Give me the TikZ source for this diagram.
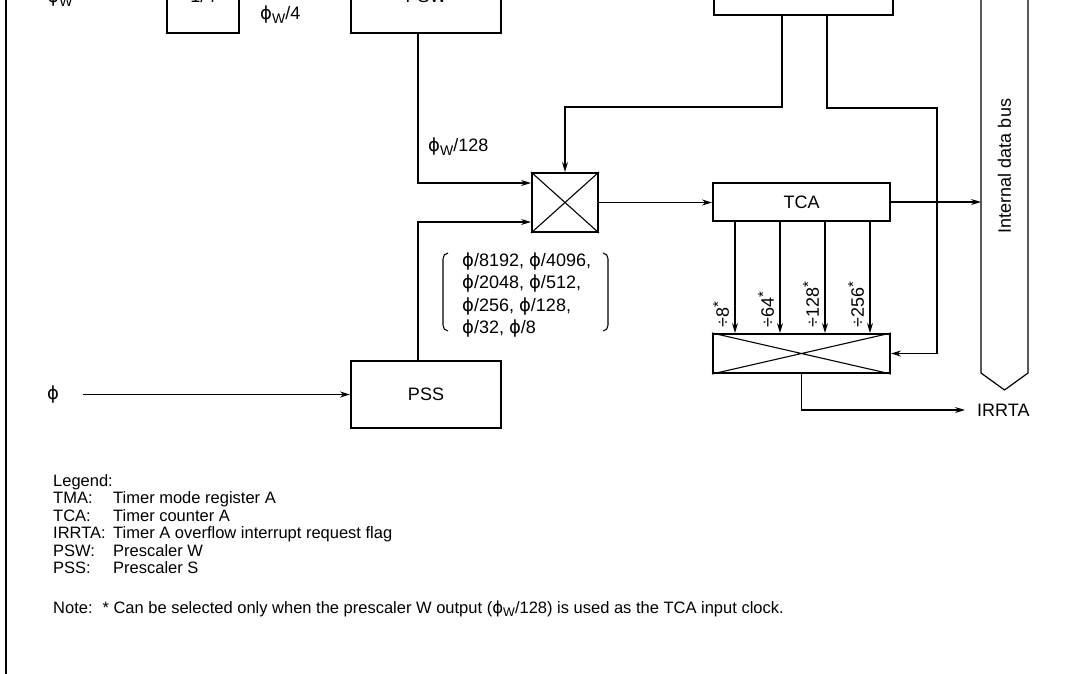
\documentclass[tikz,border=0pt]{standalone}
\usepackage{fontspec}
\setmainfont{Liberation Sans}
\newfontfamily\phifont{DejaVu Sans}
\usetikzlibrary{arrows.meta}
\newcommand\ph{{\phifont\char"03D5}}
\newcommand\phW{\ph\raisebox{-0.35ex}{\fontsize{14}{14}\selectfont W}}
\newcommand\phWs{\ph\raisebox{-0.35ex}{\fontsize{12.5}{13}\selectfont W}}
\newcommand\mystar{\raisebox{0.3em}{\fontsize{15}{15}\selectfont *}}
\begin{document}
\begin{tikzpicture}[x=1pt,y=-1pt,
  blk/.style={draw,line width=2pt,inner sep=0pt,font=\fontsize{18}{21}\selectfont},
  conn/.style={line width=1.1pt},
  arr/.style={conn,-{Stealth[length=10pt,width=6pt]}},
  lbl/.style={inner sep=0pt,font=\fontsize{18}{21}\selectfont},
  leg/.style={inner sep=0pt,anchor=base west,font=\fontsize{16.5}{18}\selectfont},
  ]
\useasboundingbox (0,0) rectangle (1066,673);
% frame
\draw[line width=2pt] (6,-20) -- (6,690);
% top blocks (cut off)
\node[blk,minimum width=72pt,minimum height=74pt] (div4) at (203,-4) {1/4};
\node[blk,minimum width=150pt,minimum height=74pt] (psw) at (426,-4) {PSW};
\node[blk,minimum width=179pt,minimum height=42pt] (tma) at (803.5,-6) {TMA};
\node[lbl] (phwin) at (60,-2) {\phW};
\node[lbl,anchor=west] (phw4) at (260,15) {\phW/4};
% mux and counters
\node[blk,minimum width=66pt,minimum height=59pt] (mux) at (565,202.5) {};
\draw[conn] (mux.north west) -- (mux.south east) (mux.north east) -- (mux.south west);
\node[blk,minimum width=177pt,minimum height=38pt] (tca) at (801.5,202) {TCA};
\node[blk,minimum width=177pt,minimum height=39pt] (sel) at (801.5,353.5) {};
\draw[conn] (sel.north west) -- (sel.south east) (sel.north east) -- (sel.south west);
\node[blk,minimum width=150pt,minimum height=67pt] (pss) at (426,394.5) {PSS};
% inputs
\node[lbl] (phin) at (53,395) {\ph};
\coordinate (phstart) at (83,394.5);
\draw[arr] (phstart) -- (pss.west);
\draw[arr] ([xshift=-8pt]psw.south) |- ([yshift=19.5pt]mux.west);
\node[lbl,anchor=west] (phw128) at (428,147) {\phW/128};
\draw[arr] ([xshift=-8pt]pss.north) |- ([yshift=-19.5pt]mux.west);
\draw[arr] ([xshift=-21.5pt]tma.south) |- ([yshift=65pt]mux.north) -- (mux.north);
\coordinate (tr) at (937,108);
\draw[arr] ([xshift=23.5pt]tma.south) |- (tr) |- (sel.east);
\draw[arr] (mux.east) -- (mux.east -| tca.west);
% bus
\draw[line width=1.2pt] (981,-20) -- (981,373) -- (1004.5,390) -- (1028,373) -- (1028,-20);
\node[lbl,rotate=90] (bus) at (1004.5,166) {Internal data bus};
\coordinate (busw) at (981,202);
\draw[arr] (tca.east) -- (busw);
% divider arrows
\foreach \dx in {-66.5,-21.5,23.5,68.5}{
  \draw[arr] ([xshift=\dx pt]tca.south) -- ([xshift=\dx pt]sel.north);
}
\node[lbl,rotate=90,anchor=west] (d8) at (721,328) {÷8\mystar};
\node[lbl,rotate=90,anchor=west] (d64) at (766,328) {÷64\mystar};
\node[lbl,rotate=90,anchor=west] (d128) at (811,328) {÷128\mystar};
\node[lbl,rotate=90,anchor=west] (d256) at (856,328) {÷256\mystar};
% output
\node[lbl,anchor=west] (irr) at (977,410) {IRRTA};
\draw[arr] (sel.south) |- ([xshift=-12pt]irr.west);
% bracket list
\draw[conn] (448,253) to[out=180,in=90] (443,259) -- (443,325) to[out=-90,in=180] (448,331);
\draw[conn] (603,253) to[out=0,in=90] (608,259) -- (608,325) to[out=-90,in=0] (603,331);
\node[lbl,anchor=base west] (l1) at (462,266) {\ph/8192, \ph/4096,};
\node[lbl,anchor=base west] (l2) at (462,288.5) {\ph/2048, \ph/512,};
\node[lbl,anchor=base west] (l3) at (462,311) {\ph/256, \ph/128,};
\node[lbl,anchor=base west] (l4) at (462,333.5) {\ph/32, \ph/8};
% legend
\node[leg] (lg0) at (53,486) {Legend:};
\node[leg] (lg1) at (53,503.5) {TMA:};   \node[leg] (lg1b) at (113,503.5) {Timer mode register A};
\node[leg] (lg2) at (53,521) {TCA:};     \node[leg] (lg2b) at (113,521) {Timer counter A};
\node[leg] (lg3) at (53,538.5) {IRRTA:}; \node[leg] (lg3b) at (113,538.5) {Timer A overflow interrupt request flag};
\node[leg] (lg4) at (53,556) {PSW:};     \node[leg] (lg4b) at (113,556) {Prescaler W};
\node[leg] (lg5) at (53,573.5) {PSS:};   \node[leg] (lg5b) at (113,573.5) {Prescaler S};
\node[leg] (note) at (53,613) {Note:\hspace{0.6em}* Can be selected only when the prescaler W output (\phWs/128) is used as the TCA input clock.};
\end{tikzpicture}
\end{document}
